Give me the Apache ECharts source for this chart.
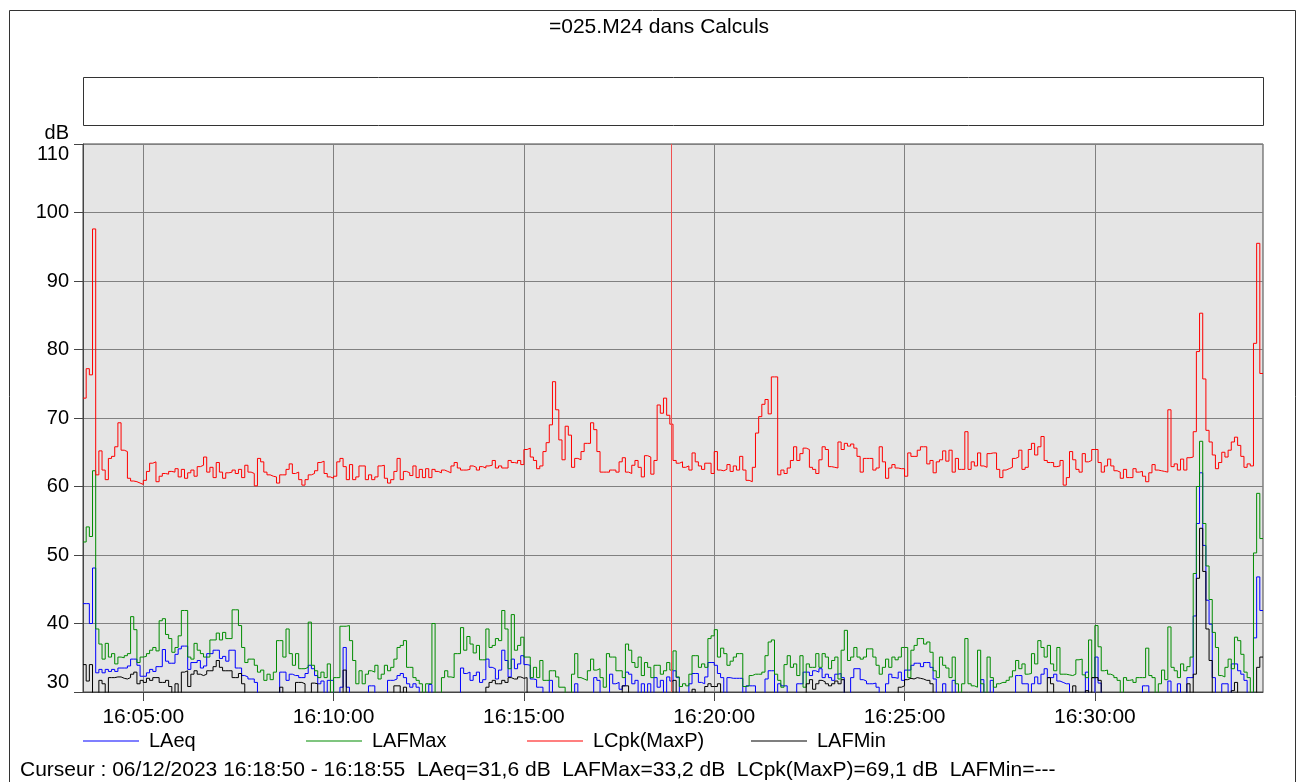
<!DOCTYPE html>
<html><head><meta charset="utf-8">
<script src="https://cdn.jsdelivr.net/npm/echarts@6/dist/echarts.min.js"></script>
<style>html,body{margin:0;padding:0;background:#fff;}#c{width:1297px;height:782px;}</style>
</head><body><div id="c"></div>
<script>
// ---- data ----
const startTime = '16:03:25';
const stepSeconds = 5;
const tickLabels = ['16:05:00','16:10:00','16:15:00','16:20:00','16:25:00','16:30:00'];
const seriesNames = ['LAeq','LAFMax','LCpk(MaxP)','LAFMin'];
const cursorStart = '16:18:50';
const cursorText = 'Curseur : 06/12/2023 16:18:50 - 16:18:55  LAeq=31,6 dB  LAFMax=33,2 dB  LCpk(MaxP)=69,1 dB  LAFMin=---';
const chartTitle = '=025.M24 dans Calculs';

const lcpk = [
72.9,77.2,76.3,97.6,61.7,65.2,62.4,61.0,64.1,64.4,65.8,69.3,65.3,65.1,61.2,60.8,60.7,60.5,60.3,60.9,
62.2,63.4,63.6,60.7,61.5,61.9,61.8,62.2,62.1,62.6,61.4,62.5,61.2,62.0,62.4,61.5,62.9,63.1,64.3,62.1,
62.8,61.3,63.5,62.1,61.2,62.0,62.1,62.4,61.9,62.5,61.3,63.1,62.1,61.9,60.1,64.1,63.6,62.1,61.7,61.5,
61.4,60.5,
61.7,61.7,62.5,63.3,61.9,62.1,61.0,60.2,61.0,61.7,61.9,62.3,63.5,63.7,61.9,61.4,61.2,61.5,63.6,64.1,
62.9,61.0,63.2,61.0,61.4,63.0,63.0,61.0,61.7,61.0,61.4,63.0,63.1,61.2,60.5,61.0,62.2,64.1,61.0,62.2,
62.0,61.6,63.0,61.3,62.5,61.3,62.6,61.3,62.5,62.2,62.0,62.4,62.2,62.0,63.0,63.5,62.7,62.4,62.4,62.5,
63.0,62.8,
62.4,62.9,62.7,63.0,63.1,63.8,62.7,63.0,62.7,62.7,63.8,63.5,63.4,63.8,63.2,65.4,65.6,64.3,63.8,62.6,
63.0,65.1,66.4,69.0,75.3,71.2,66.8,63.9,68.8,67.5,62.8,64.1,63.9,65.1,66.3,66.3,69.3,68.3,65.1,62.1,
62.1,62.1,62.4,62.4,62.1,63.6,64.2,62.1,61.9,63.1,63.8,62.8,61.4,64.5,64.3,61.8,63.8,71.9,70.7,72.9,
70.4,69.1,
63.8,63.4,63.6,62.8,63.0,62.4,64.9,63.6,63.0,62.5,63.4,63.4,61.9,65.1,62.4,62.3,62.5,63.2,62.2,63.0,
62.4,64.4,62.4,60.9,60.7,62.8,67.8,70.2,72.0,72.7,70.6,76.0,76.0,61.7,62.4,61.9,62.7,63.8,65.8,63.8,
64.8,65.6,65.4,62.8,62.5,61.9,63.9,65.8,65.4,62.9,62.8,62.7,66.5,65.4,66.3,65.9,66.2,65.6,64.4,62.1,
64.1,64.1,
64.1,62.4,62.7,65.8,63.6,61.2,62.7,63.2,62.7,62.6,62.6,61.5,64.9,64.4,64.4,65.3,65.8,65.8,63.3,63.8,
62.0,63.6,63.9,65.2,63.7,65.3,62.1,64.1,62.5,62.5,68.0,62.5,63.6,63.0,64.9,63.0,62.8,64.8,64.9,64.9,
62.5,61.3,62.4,62.6,62.8,64.1,64.3,65.3,62.5,62.8,65.4,66.3,64.6,65.8,67.3,63.8,63.5,63.5,62.9,63.0,
63.8,60.2,
61.3,65.1,63.9,62.5,62.1,64.8,63.6,63.8,65.4,65.4,63.5,62.1,63.0,64.0,63.0,62.3,62.1,61.2,62.5,61.3,
61.3,62.6,62.1,62.2,61.5,60.7,62.0,63.2,62.4,62.3,62.2,62.1,71.2,62.9,63.3,62.4,64.0,62.4,64.2,64.3,
68.0,79.7,85.3,75.7,68.2,66.5,64.6,62.6,63.5,65.0,64.3,65.3,66.5,67.2,66.0,64.4,62.8,63.3,63.0,80.9,
95.5,76.5
];

const lafmax = [
51.9,54.1,52.7,62.3,39.2,37.0,34.8,37.1,35.1,35.6,34.1,35.1,35.0,35.3,35.6,41.0,39.1,34.3,35.1,35.2,
35.6,36.1,36.5,36.0,40.4,40.7,38.4,37.8,35.8,36.5,38.2,41.9,41.9,35.1,34.8,37.1,36.1,35.6,35.1,35.1,
37.6,37.6,38.6,37.6,38.7,37.8,37.8,42.0,42.0,39.7,36.5,34.3,34.8,34.8,33.9,32.9,33.2,31.7,32.6,31.8,
32.9,37.5,
37.5,35.1,39.2,35.6,33.9,35.6,33.4,33.4,33.6,40.2,33.9,33.1,32.1,32.9,32.1,34.1,29,32.1,32.1,39.6,
39.6,39.7,37.5,34.6,31.2,33.1,31.2,32.6,33.1,32.9,33.9,31.9,32.6,33.9,33.1,33.6,34.8,36.5,36.8,37.5,
33.6,33.6,32.1,31.7,31.2,29,31.2,31.2,40.0,29,29,32.1,33.1,32.2,32.1,35.6,35.6,39.4,36.1,38.1,
37.0,35.7,
36.8,34.7,34.7,39.2,36.5,36.8,37.8,37.5,41.9,39.2,33.4,41.3,36.1,36.8,38.0,35.1,35.1,32.1,33.6,32.1,
34.6,31.7,31.7,33.1,33.1,32.2,30.7,30.7,29,29,32.6,35.6,32.1,31.9,31.7,33.1,34.8,33.2,33.4,32.1,
30.7,35.6,35.1,35.1,33.1,33.1,32.1,37.0,36.1,34.3,33.6,35.1,32.4,34.3,33.6,32.1,33.9,33.9,32.6,33.1,
34.3,33.2,
36.0,32.2,30.8,31.2,30.9,32.6,35.3,35.3,33.6,34.1,33.6,37.8,38.2,39.1,35.1,36.4,35.6,33.9,34.5,35.1,
35.6,35.6,30.8,30.9,32.4,32.6,32.6,32.6,32.9,35.3,37.3,37.6,32.6,31.7,30.7,34.0,35.3,33.6,34.1,32.4,
35.3,30.7,34.1,33.6,33.6,35.6,33.6,35.6,35.1,33.4,34.6,35.1,31.9,36.1,39.0,34.6,35.1,36.5,35.1,34.8,
35.1,36.3,
36.3,35.1,33.9,32.6,33.6,34.8,33.6,35.1,34.7,35.1,36.5,36.5,32.1,36.1,36.8,37.8,37.8,37.0,37.3,35.8,
33.1,32.1,35.1,33.9,33.5,32.1,35.1,31.2,29,31.2,37.8,31.2,30.9,30.7,36.1,31.2,29,35.1,32.1,30.7,
31.2,31.4,31.4,31.7,32.2,33.1,34.6,33.4,34.1,32.6,32.7,35.6,34.1,37.5,36.5,35.1,36.8,34.1,33.1,36.5,
32.6,32.6,
32.5,32.4,32.6,34.7,34.8,32.5,32.1,37.6,32.1,39.7,36.6,33.1,33.2,32.6,32.4,32.1,31.7,29,32.1,31.7,
31.8,31.4,32.1,32.1,32.1,36.4,32.4,32.1,29,31.2,33.2,31.8,39.5,33.6,33.1,32.1,34.1,33.1,33.7,35.1,
47.3,60.0,66.6,54.6,48.4,43.5,38.7,36.5,32.4,32.2,33.6,34.8,33.4,38.0,37.5,35.5,32.9,32.1,29,50.3,
59.0,52.4
];

const laeq = [
42.9,42.9,40.0,48.1,32.8,33.3,32.8,33.3,33.0,33.3,33.0,33.5,33.5,33.5,33.8,34.8,34.8,33.9,32.3,32.3,
32.8,33.3,33.0,33.7,33.7,36.2,34.5,34.2,34.2,35.5,36.3,36.7,36.7,33.3,34.3,34.3,34.6,33.5,33.8,35.6,
35.6,36.1,36.1,34.9,35.2,34.5,36.1,36.1,33.5,33.5,32.4,32.2,31.9,31.9,31.4,29,29,29,29,29,
29,29,
32.9,32.9,31.7,32.6,32.4,32.4,32.1,32.1,32.7,33.9,33.4,32.4,31.2,31.6,29,31.7,31.7,29,29,30.7,
36.5,30.7,29,29,29,29,29,29,30.9,30.9,29,29,29,29,31.7,31.7,31.9,32.4,32.7,32.1,
31.2,30.7,31.2,30.7,29,29,29,31.1,29,29,29,29,29,29,29,29,29,33.5,32.7,32.9,
31.7,32.4,
32.9,31.4,31.8,34.8,33.6,33.4,31.9,33.2,36.1,34.6,32.2,34.8,33.4,34.1,35.3,34.0,33.9,31.9,31.8,30.7,
30.7,29,29,31.7,29,29,29,29,29,29,29,31.2,29,29,29,29,29,32.1,31.7,29,
29,29,32.6,31.2,31.4,30.4,30.9,32.9,32.6,31.2,31.7,29,31.2,29,31.2,29,32.1,30.7,31.7,29,
32.2,31.6,
33.1,32.1,29,29,29,31.2,32.7,32.7,31.4,31.2,32.2,34.3,34.3,33.9,32.7,32.1,29,32.1,32.0,32.0,
32.0,32.0,29,30.9,30.9,30.9,29,29,29,31.9,33.1,33.1,29,31.2,30.9,30.9,29,29,29,31.2,
31.2,32.9,32.9,32.4,33.1,32.9,33.4,32.1,32.6,32.1,31.7,32.6,32.7,32.1,29,29,32.1,33.4,33.4,31.8,
31.6,31.2,
31.2,31.3,30.7,29,29,31.2,32.6,32.1,32.0,32.9,31.7,33.2,33.2,33.9,34.2,34.2,33.7,34.3,34.3,33.6,
31.9,29,29,31.2,29,29,31.7,29,29,29,29,29,29,29,29,31.8,29,29,31.7,29,
29,29,29,29,29,29,32.4,32.4,31.2,31.2,29,31.2,32.2,31.2,32.6,33.4,32.1,32.1,32.6,31.6,
31.4,31.2,
31.2,29,29,29,29,29,32.9,29,29,35.1,31.3,29,29,29,29,29,29,29,29,29,
29,29,29,29,30.9,30.9,29,29,29,29,29,29,31.6,29,29,31.2,29,29,32.1,32.1,
41.1,54.6,62.0,51.4,43.4,39.9,32.1,29,29,31.2,31.2,29,34.1,34.1,33.1,32.6,31.7,29,29,37.9,
46.8,41.9
];

const lafmin = [
34.0,31.6,34.0,29,29,31.7,31.2,29,32.1,32.1,32.2,32.2,32.0,31.9,32.1,32.6,32.9,31.2,31.7,31.4,
32.0,31.7,32.1,32.1,31.4,31.4,31.7,30.8,29,31.2,29,32.9,33.1,30.8,32.6,33.1,32.6,32.4,32.6,33.1,
33.1,33.7,34.6,33.6,33.1,33.1,33.1,32.1,32.1,32.7,31.2,29,29,29,29,29,29,29,29,29,
29,29,
30.7,29,29,29,29,31.4,31.4,31.2,29,29,31.3,31.2,29,29,29,29,29,29,29,29,
33.2,29,29,29,29,29,29,29,29,29,29,29,29,29,29,29,30.9,30.9,29,30.7,
29,29,29,29,29,29,29,29,29,29,29,29,29,29,29,29,29,29,29,29,
29,29,
29,29,29,30.7,31.4,31.7,31.2,31.2,31.7,31.4,32.1,31.9,31.9,32.2,32.0,32.1,29,29,29,29,
29,29,29,29,29,29,29,29,29,29,29,29,29,29,29,29,29,29,29,29,
29,29,29,29,29,29,30.9,30.9,29,29,29,29,29,29,29,29,29,29,29,29,
29,29,
31.7,29,29,29,29,29,30.4,29,29,29,30.8,31.2,30.8,30.8,31.2,29,29,29,29,29,
29,29,29,29,29,29,29,29,29,29,29,29,29,29,29,29,29,29,29,29,
29,29,31.2,31.8,30.4,31.2,31.7,31.5,31.2,30.9,31.2,31.6,31.2,31.8,29,29,29,29,29,29,
29,29,
29,29,29,29,29,29,29,29,29,30.7,30.9,31.8,32.0,31.9,32.1,32.0,31.9,31.7,31.7,31.2,
29,29,29,29,29,29,29,29,29,29,29,29,29,29,29,29,29,29,29,29,
29,29,29,29,29,29,29,29,29,29,29,29,29,29,29,29,32.1,31.2,29,29,
29,29,
29,29,30.9,29,29,29,30.2,29,32.1,32.1,31.7,29,29,29,29,29,29,29,29,29,
29,29,29,29,29,29,29,29,29,29,29,29,29,29,29,29,29,29,31.2,29,
32.6,46.6,53.9,47.6,39.2,34.6,29,29,29,29,29,29,30.2,31.4,29,29,29,29,29,29,
33.6,35.1
];

// ---- chart ----
const FONT = "'Liberation Sans', Arial, sans-serif";
const colors = ['#0000ff', '#008c00', '#ff0000', '#000000'];
const legendLefts = [83, 306, 527, 751];

function toSec(s){ const p = s.split(':').map(Number); return p[0]*3600 + p[1]*60 + p[2]; }
function fmt(s){ const h=Math.floor(s/3600), m=Math.floor((s%3600)/60), x=s%60;
  return [h,m,x].map(v=>String(v).padStart(2,'0')).join(':'); }
const t0 = toSec(startTime);
const categories = [];
for (let k = 0; k <= lcpk.length; k++) categories.push(fmt(t0 + k*stepSeconds));
const isTick = (idx, val) => tickLabels.indexOf(val) >= 0;
const closeStep = v => v.concat([v[v.length-1]]);
const allValues = [laeq, lafmax, lcpk, lafmin];

const chart = echarts.init(document.getElementById('c'), null, {renderer: 'canvas'});
const option = {
  animation: false,
  backgroundColor: '#ffffff',
  textStyle: {fontFamily: FONT},
  title: {text: chartTitle, left: 544, top: 12,
    textStyle: {fontSize: 21, fontWeight: 'normal', color: '#000', fontFamily: FONT}},
  grid: {show: true, left: 83, right: 34, top: 144, bottom: 90,
    backgroundColor: '#e5e5e5', borderColor: '#444', borderWidth: 1, containLabel: false},
  legend: seriesNames.map((n, i) => ({
    data: [n], left: legendLefts[i], top: 731, icon: 'rect', itemWidth: 56, itemHeight: 1,
    selectedMode: false, padding: 0,
    textStyle: {fontSize: 20, color: '#000', fontFamily: FONT, padding: [0, 0, 0, 5]}
  })),
  xAxis: {
    type: 'category', data: categories, boundaryGap: false,
    axisLine: {show: true, lineStyle: {color: '#444', width: 1}},
    axisTick: {show: true, interval: isTick, length: 9, lineStyle: {color: '#444'}},
    axisLabel: {interval: isTick, fontSize: 21, color: '#000', margin: 15, fontFamily: FONT},
    splitLine: {show: true, interval: isTick, lineStyle: {color: '#808080', width: 1}}
  },
  yAxis: {
    type: 'value', min: 30, max: 110, interval: 10,
    name: 'dB', nameLocation: 'end', nameGap: 1,
    nameTextStyle: {fontSize: 20, color: '#000', align: 'right', padding: [0, 14, 0, 0], fontFamily: FONT},
    axisLine: {show: true, lineStyle: {color: '#444', width: 1}},
    axisTick: {show: true, length: 9, lineStyle: {color: '#444'}},
    axisLabel: {fontSize: 20, color: '#000', margin: 14, fontFamily: FONT,
      verticalAlignMaxLabel: 'top', verticalAlignMinLabel: 'bottom'},
    splitLine: {show: true, lineStyle: {color: '#808080', width: 1}}
  },
  series: seriesNames.map((n, i) => ({
    name: n, type: 'line', step: 'end', data: closeStep(allValues[i]),
    showSymbol: false, symbol: 'none', color: colors[i],
    lineStyle: {color: colors[i], width: 1}, clip: true, z: 2 + i
  })),
  graphic: [
    {id: 'frame', type: 'rect', silent: true, shape: {x: 9.5, y: 10.5, width: 1286, height: 790},
      style: {fill: 'none', stroke: '#333', lineWidth: 1}},
    {id: 'box', type: 'rect', silent: true, shape: {x: 83.5, y: 77.5, width: 1180, height: 48},
      style: {fill: '#fff', stroke: '#333', lineWidth: 1}},
    {id: 'cursorText', type: 'text', left: 20, top: 760, silent: true,
      style: {text: cursorText, fontSize: 21, fill: '#000', fontFamily: FONT}}
  ]
};
chart.setOption(option);

// cursor line at centre of the cursor interval
const ci = categories.indexOf(cursorStart);
const xa = chart.convertToPixel({xAxisIndex: 0}, categories[ci]);
const xb = chart.convertToPixel({xAxisIndex: 0}, categories[ci + 1]);
const yTop = chart.convertToPixel({yAxisIndex: 0}, 110);
const yBot = chart.convertToPixel({yAxisIndex: 0}, 30);
const xc = Math.round((xa + xb) / 2) + 0.5;
chart.setOption({graphic: [{id: 'cursor', type: 'line', silent: true, z: 10,
  shape: {x1: xc, y1: yTop, x2: xc, y2: yBot}, style: {stroke: '#f05050', lineWidth: 1}}]});
</script></body></html>
